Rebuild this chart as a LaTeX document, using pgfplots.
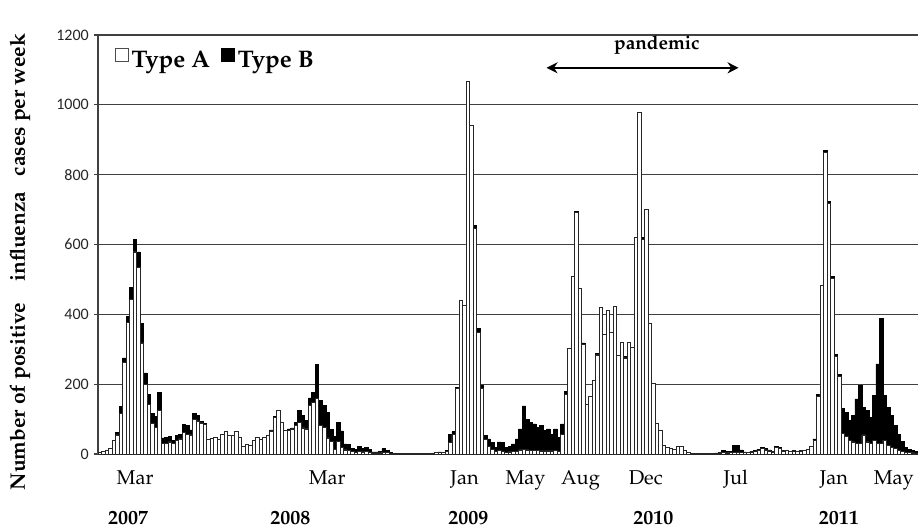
\documentclass[border=0pt]{standalone}
\usepackage{fontspec}
\newfontfamily\carlito{Carlito}
\usepackage[T1]{fontenc}
\renewcommand{\rmdefault}{ppl}
\usepackage{pgfplots}
\usepackage{pgfplotstable}
\usetikzlibrary{arrows.meta}
\pgfplotsset{compat=1.18}
\pgfplotstableread{
i A B
0 5 0
1 8 0
2 10 0
3 17 0
4 40 0
5 55 7
6 116 20
7 263 12
8 378 16
9 442 36
10 579 35
11 534 45
12 318 55
13 199 33
14 143 27
15 88 29
16 77 30
17 124 53
18 31 15
19 30 18
20 35 15
21 30 10
22 40 14
23 43 14
24 62 22
25 57 24
26 55 14
27 100 17
28 95 15
29 89 5
30 85 3
31 43 0
32 46 0
33 48 0
34 43 0
35 57 0
36 65 0
37 53 0
38 53 0
39 65 0
40 48 0
41 21 0
42 29 0
43 24 0
44 38 0
45 48 0
46 43 0
47 48 0
48 53 0
49 66 3
50 105 2
51 126 0
52 91 0
53 67 0
54 68 4
55 72 3
56 83 8
57 91 33
58 75 35
59 72 24
60 139 22
61 147 30
62 160 96
63 81 72
64 77 62
65 46 73
66 37 33
67 13 38
68 37 53
69 18 48
70 12 17
71 10 17
72 7 10
73 5 8
74 8 14
75 6 11
76 8 11
77 5 8
78 3 3
79 3 3
80 3 5
81 5 10
82 4 6
83 2 2
84 1 1
85 1 1
86 1 0
87 2 0
88 1 0
89 2 0
90 2 0
91 1 0
92 2 0
93 3 0
94 2 0
95 3 0
96 5 0
97 5 1
98 5 0
99 8 2
100 33 24
101 56 8
102 187 4
103 439 0
104 425 0
105 1067 0
106 941 0
107 646 8
108 348 12
109 188 8
110 41 12
111 21 22
112 13 20
113 7 12
114 10 25
115 8 25
116 5 14
117 6 16
118 7 22
119 8 35
120 12 60
121 13 125
122 12 88
123 11 80
124 10 76
125 10 66
126 9 72
127 9 58
128 9 63
129 9 48
130 10 62
131 8 40
132 56 30
133 170 10
134 304 0
135 508 0
136 691 4
137 476 0
138 313 5
139 143 0
140 165 0
141 212 0
142 284 5
143 420 0
144 344 0
145 413 0
146 350 0
147 422 0
148 282 0
149 320 0
150 275 4
151 320 0
152 306 0
153 620 0
154 979 0
155 615 5
156 702 0
157 374 0
158 202 0
159 88 0
160 69 0
161 24 0
162 19 0
163 16 0
164 14 0
165 21 0
166 21 0
167 10 0
168 5 0
169 3 0
170 2 0
171 2 0
172 2 0
173 1 1
174 1 1
175 2 0
176 2 1
177 3 2
178 4 6
179 3 5
180 4 4
181 4 20
182 4 20
183 4 8
184 4 2
185 4 1
186 6 2
187 7 3
188 11 3
189 15 4
190 12 5
191 9 3
192 6 2
193 18 3
194 17 2
195 9 1
196 10 0
197 8 0
198 9 1
199 8 0
200 9 1
201 12 0
202 14 0
203 21 0
204 40 3
205 164 6
206 482 0
207 863 6
208 718 6
209 502 6
210 279 6
211 223 6
212 60 70
213 50 70
214 40 56
215 35 75
216 30 128
217 30 166
218 55 79
219 35 89
220 30 75
221 40 127
222 30 228
223 30 358
224 40 127
225 25 109
226 20 90
227 15 66
228 10 47
229 8 28
230 5 15
231 4 10
232 3 7
233 2 6
}\flu
\begin{document}
\begin{tikzpicture}
\path[use as bounding box] (-98pt,-74pt) rectangle (820pt,454pt);
\begin{axis}[
  at={(0pt,0pt)}, anchor=south west,
  width=820pt, height=419pt, scale only axis,
  ybar stacked, bar width=1,
  xmin=-0.5, xmax=233.5, ymin=0, ymax=1200,
  ytick={0,200,...,1200},
  /pgf/number format/1000 sep={},
  /pgf/number format/assume math mode=true,
  ymajorgrids,
  grid style={draw=black!75, line width=1.1pt},
  axis x line*=bottom, axis y line*=left,
  axis line style={draw=black!75, line width=1.1pt, -},
  y axis line style={-},
  ytick style={draw=black!75, line width=1.1pt},
  ytick align=outside, major tick length=4pt,
  xtick style={draw=none},
  yticklabel style={font=\carlito\fontsize{16}{16}\selectfont, text=black!85, inner sep=2pt, xshift=-3pt},
  xtick={10.07,64.9,104.1,121.5,137.2,155.8,181.5,209.5,226.6},
  xticklabels={Mar,Mar,Jan,May,Aug,Dec,Jul,Jan,May},
  xticklabel style={font=\fontsize{20}{20}\selectfont, anchor=base, yshift=-30pt},
  extra x ticks={8.07,54.4,105.2,158,210.9},
  extra x tick labels={\textbf{2007},\textbf{2008},\textbf{2009},\textbf{2010},\textbf{2011}},
  extra x tick style={tick label style={yshift=-40pt}},
  ylabel={Number of positive\ \ \ \ influenza\ \ \ cases per week},
  ylabel style={font=\bfseries\fontsize{21}{21}\selectfont, at={(axis description cs:-0.095,0.458)}, anchor=center},
  legend style={at={(axis description cs:0.02,0.97)}, anchor=north west, draw=none, fill=none,
    font=\bfseries\fontsize{24}{24}\selectfont, inner sep=0pt,
    /tikz/every odd column/.append style={column sep=1pt},
    /tikz/every even column/.append style={column sep=9pt}},
  legend columns=2,
  legend cell align=left,
]
\addplot[fill=white, draw=black!85, line width=0.55pt,
  legend image code/.code={\draw[fill=white, draw=black!70, line width=0.9pt] (0pt,-1pt) rectangle (13pt,12pt);}]
  table[x=i, y=A] {\flu};
\addlegendentry{Type A}
\addplot[fill=black, draw=black, line width=0.55pt,
  legend image code/.code={\draw[fill=black, draw=black, line width=0.9pt] (0pt,-1pt) rectangle (13pt,12pt);}]
  table[x=i, y=B] {\flu};
\addlegendentry{Type B}
\draw[<->, >={Stealth[length=11pt,width=11pt]}, line width=2.6pt] (axis cs:127.5,1106) -- (axis cs:182.3,1106);
\node[font=\bfseries\fontsize{19}{19}\selectfont] at (axis cs:159,1172) {pandemic};
\end{axis}
\end{tikzpicture}
\end{document}
